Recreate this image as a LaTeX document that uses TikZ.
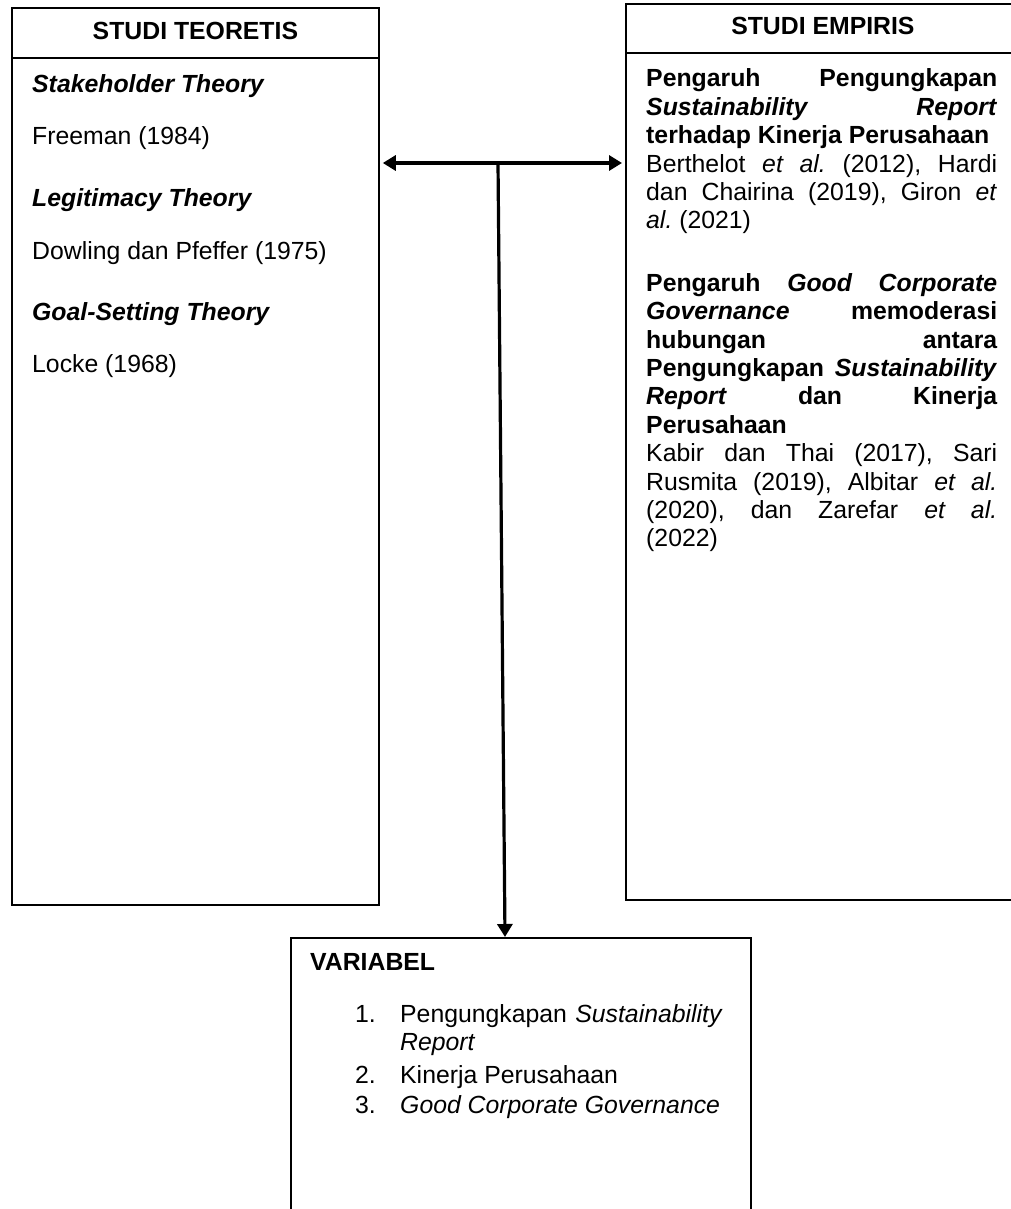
\documentclass[tikz,border=0pt]{standalone}
\usepackage{fontspec}
\setmainfont{Liberation Sans}
\usetikzlibrary{positioning,calc}
\usetikzlibrary{arrows.meta}
\frenchspacing
\newcommand{\ukuran}{\fontsize{24.8}{28.4}\selectfont}
\tikzstyle{kotak} = [rectangle, draw=black, line width=1.8pt, inner sep=0pt, anchor=north west]
\tikzstyle{judul} = [font=\ukuran\bfseries, anchor=base, inner sep=0pt]
\tikzstyle{isi} = [anchor=base west, inner sep=0pt]
\tikzstyle{arrow} = [line width=3.2pt, -{Triangle[length=13pt,width=15pt]}]
\tikzstyle{arrow2} = [line width=3.2pt, {Triangle[length=13pt,width=15pt]}-{Triangle[length=13pt,width=15pt]}]

\begin{document}
\begin{tikzpicture}[x=1pt, y=-1pt, font=\ukuran]
	\useasboundingbox (0,0) rectangle (1011,1209);
	\node (teo) at (11,7) [kotak, minimum width=367pt, minimum height=897pt] {};
	\node (emp) at (625,3) [kotak, minimum width=394pt, minimum height=896pt] {};
	\node (var) at (290,937) [kotak, minimum width=460pt, minimum height=300pt] {};
	\draw[line width=1.8pt] ([yshift=-51pt]teo.north west) -- ([yshift=-51pt]teo.north east);
	\draw[line width=1.8pt] ([yshift=-50pt]emp.north west) -- ([yshift=-50pt]emp.north east);
	\node (judulteo) at ([yshift=-33pt]teo.north) [judul] {STUDI TEORETIS};
	\node (judulemp) at ([yshift=-32pt]emp.north) [judul] {STUDI EMPIRIS};
	\node (teori1) at (32,93) [isi] {\textbf{\textit{Stakeholder Theory}}};
	\node (ahli1) at (32,145) [isi] {Freeman (1984)};
	\node (teori2) at (32,207) [isi] {\textbf{\textit{Legitimacy Theory}}};
	\node (ahli2) at (32,259) [isi] {Dowling dan Pfeffer (1975)};
	\node (teori3) at (32,320) [isi] {\textbf{\textit{Goal-Setting Theory}}};
	\node (ahli3) at (32,372) [isi] {Locke (1968)};
	\node (empiris) at (646,87) [isi, text width=351pt, align=justify] {%
		\textbf{Pengaruh Pengungkapan\linebreak \textit{Sustainability Report}\linebreak terhadap Kinerja Perusahaan}\newline
		Berthelot \textit{et al.} (2012), Hardi\linebreak dan Chairina (2019), Giron \textit{et}\linebreak \textit{al.} (2021)\par
		\vspace{34pt}
		\textbf{Pengaruh \textit{Good Corporate}\linebreak \textit{Governance} memoderasi\linebreak hubungan antara\linebreak Pengungkapan \textit{Sustainability}\linebreak \textit{Report} dan Kinerja\linebreak Perusahaan}\newline
		Kabir dan Thai (2017), Sari\linebreak Rusmita (2019), Albitar \textit{et al.}\linebreak (2020), dan Zarefar \textit{et al.}\linebreak (2022)};
	\node (judulvar) at (310,970) [isi, font=\ukuran\bfseries] {VARIABEL};
	\node (no1) at (355,1022) [isi] {1.};
	\node (var1) at (400,1022) [isi, text width=340pt, align=left] {Pengungkapan \textit{Sustainability}\\ \textit{Report}};
	\node (no2) at (355,1083) [isi] {2.};
	\node (var2) at (400,1083) [isi] {Kinerja Perusahaan};
	\node (no3) at (355,1113) [isi] {3.};
	\node (var3) at (400,1113) [isi] {\textit{Good Corporate Governance}};
	\coordinate (simpang) at (498,163);
	\draw[arrow2, shorten <=3pt, shorten >=3pt] (teo.east |- simpang) -- (emp.west |- simpang);
	\draw[arrow] (simpang) -- ([xshift=7pt]simpang |- var.north);
\end{tikzpicture}
\end{document}
